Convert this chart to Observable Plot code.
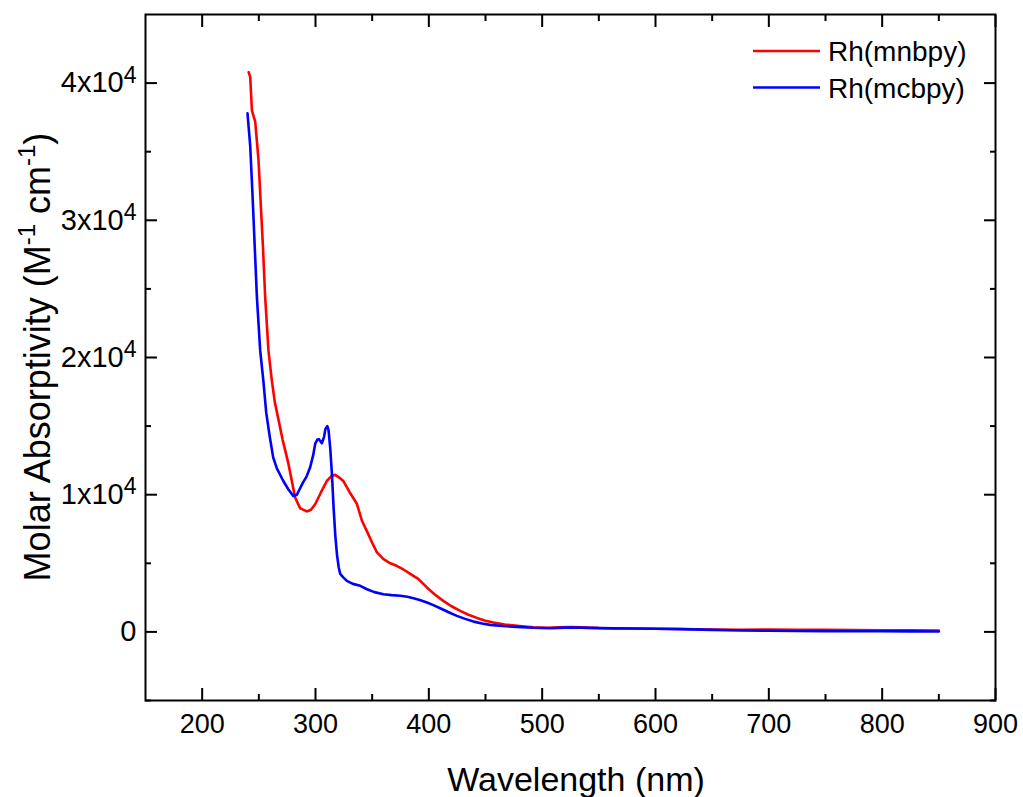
<!DOCTYPE html>
<html>
<head>
<meta charset="utf-8">
<script src="https://cdn.jsdelivr.net/npm/d3@7"></script>
<script src="https://cdn.jsdelivr.net/npm/@observablehq/plot@0.6"></script>
<style>
  html, body { margin: 0; padding: 0; background: #fff; }
  #chart { position: relative; width: 1023px; height: 797px; }
</style>
</head>
<body>
<div id="chart"></div>
<script>
// ---- Data ----
const seriesNames = ["Rh(mnbpy)", "Rh(mcbpy)"];
const seriesColors = ["#ff0000", "#0000ff"];

const wlMnbpy = [241, 242.4, 243.9, 246.8, 249.7, 252, 253.5, 255.6, 258.5, 261.5, 264, 267, 271, 276, 282, 286.5, 292.4, 296, 299.7, 305, 310, 314, 317.4, 321, 324.5, 330, 336.5, 341, 345, 350, 354.2, 360, 366, 372, 377.5, 383.6, 390.6, 398.3, 405, 412.7, 420, 427.7, 435, 442.4, 450, 457, 467, 477.7, 492, 505, 515, 525, 535, 550, 563, 580, 600, 622, 650, 675, 700, 725, 750, 775, 800, 825, 850];
const epsMnbpy = [40800, 40450, 38000, 37200, 34400, 30700, 28300, 24400, 20500, 18300, 16800, 15600, 14000, 12300, 9800, 9000, 8780, 8900, 9300, 10200, 11000, 11350, 11450, 11250, 11000, 10200, 9340, 8100, 7400, 6500, 5800, 5300, 5000, 4800, 4550, 4230, 3870, 3240, 2750, 2260, 1870, 1530, 1250, 1020, 820, 680, 540, 440, 330, 300, 330, 360, 330, 280, 270, 250, 230, 210, 180, 160, 170, 150, 150, 130, 120, 110, 100];

const wlMcbpy = [240, 242.4, 244.4, 246, 248.3, 251.2, 254, 256.5, 259.5, 262.7, 266, 271.6, 276, 280.4, 283.6, 286, 289, 292, 295.3, 298, 299.7, 301.5, 303, 305.6, 307.5, 308.8, 310.4, 311.5, 313, 314.5, 316, 317.5, 319, 320.5, 321.8, 324.7, 327.7, 333, 339.5, 345.4, 352, 360, 367, 374.8, 381, 386.5, 392, 398.3, 404, 410, 417, 424.8, 432, 439.5, 447, 454, 465, 477.7, 492, 507, 520, 530, 540, 563, 580, 600, 622, 650, 675, 700, 725, 750, 775, 800, 825, 850];
const epsMcbpy = [37800, 35400, 31900, 28800, 24400, 20500, 18300, 16000, 14300, 12700, 11900, 11000, 10400, 9900, 10000, 10400, 10900, 11300, 12000, 12900, 13700, 14000, 14050, 13750, 14200, 14800, 15000, 14700, 13400, 11500, 9000, 7000, 5600, 4700, 4230, 3960, 3720, 3500, 3360, 3110, 2900, 2740, 2680, 2630, 2560, 2450, 2320, 2140, 1950, 1720, 1450, 1170, 950, 750, 610, 510, 430, 365, 300, 270, 310, 320, 290, 260, 245, 230, 200, 150, 100, 80, 70, 60, 50, 45, 40, 30];

const xMajorTicks = [200, 300, 400, 500, 600, 700, 800, 900];
const xMinorTicks = [250, 350, 450, 550, 650, 750, 850];
const yMajorTicks = [0, 10000, 20000, 30000, 40000];
const yMinorTicks = [-5000, 5000, 15000, 25000, 35000];
const yTickMantissa = ["0", "1x10", "2x10", "3x10", "4x10"];
const yTickExponent = ["", "4", "4", "4", "4"];

const xTitle = "Wavelength (nm)";

// ---- Build table ----
const rows = [];
wlMnbpy.forEach((w, i) => rows.push({series: seriesNames[0], wl: w, eps: epsMnbpy[i]}));
wlMcbpy.forEach((w, i) => rows.push({series: seriesNames[1], wl: w, eps: epsMcbpy[i]}));

const FONT = "'Liberation Sans', Arial, sans-serif";
const tickW = 2;
const XTICK_FS = 27;
const YTICK_FS = 29;

const plot = Plot.plot({
  width: 1023,
  height: 797,
  marginLeft: 145,
  marginRight: 28,
  marginTop: 14,
  marginBottom: 97,
  style: {fontFamily: FONT, background: "#fff", color: "#000"},
  x: {domain: [150, 900]},
  y: {domain: [-5000, 45000]},
  color: {domain: seriesNames, range: seriesColors},
  marks: [
    Plot.line(rows, {x: "wl", y: "eps", z: "series", stroke: "series", strokeWidth: 2.6, strokeLinejoin: "round"}),
    // inward ticks on all four sides
    Plot.axisX(xMajorTicks, {anchor: "bottom", tickSize: -12, text: null, label: null, strokeWidth: tickW}),
    Plot.axisX(xMinorTicks, {anchor: "bottom", tickSize: -6, text: null, label: null, strokeWidth: tickW}),
    Plot.axisX(xMajorTicks, {anchor: "top", tickSize: -12, text: null, label: null, strokeWidth: tickW}),
    Plot.axisX(xMinorTicks, {anchor: "top", tickSize: -6, text: null, label: null, strokeWidth: tickW}),
    Plot.axisY(yMajorTicks, {anchor: "left", tickSize: -12, text: null, label: null, strokeWidth: tickW}),
    Plot.axisY(yMinorTicks, {anchor: "left", tickSize: -6, text: null, label: null, strokeWidth: tickW}),
    Plot.axisY(yMajorTicks, {anchor: "right", tickSize: -12, text: null, label: null, strokeWidth: tickW}),
    Plot.axisY(yMinorTicks, {anchor: "right", tickSize: -6, text: null, label: null, strokeWidth: tickW}),
    // tick labels
    Plot.axisX(xMajorTicks, {anchor: "bottom", tickSize: 0, tickPadding: 13, label: null, fontSize: XTICK_FS, tickFormat: d => String(d)}),
    Plot.axisY(yMajorTicks, {anchor: "left", tickSize: 0, tickPadding: 9, label: null, fontSize: YTICK_FS, tickFormat: d => yTickMantissa[yMajorTicks.indexOf(d)]}),
    Plot.frame({stroke: "#000", strokeWidth: 2})
  ]
});

document.getElementById("chart").appendChild(plot);

const svg = d3.select(plot);

svg.selectAll("g[aria-label='x-axis tick label']").style("font-size", XTICK_FS + "px");
svg.selectAll("g[aria-label='y-axis tick label']").style("font-size", YTICK_FS + "px");

// superscript exponents on y tick labels
svg.selectAll("g[aria-label='y-axis tick label'] text").each(function() {
  const t = d3.select(this);
  const idx = yTickMantissa.indexOf(t.text());
  if (idx >= 0 && yTickExponent[idx]) {
    t.append("tspan").attr("dy", "-0.42em").style("font-size", Math.round(YTICK_FS * 0.78) + "px").text(yTickExponent[idx]);
  }
});

// Axis titles
svg.append("text")
  .attr("x", 576).attr("y", 791)
  .attr("text-anchor", "middle")
  .attr("font-family", FONT).style("font-size", "34px").attr("fill", "#000")
  .text(xTitle);

const yt = svg.append("text")
  .attr("transform", "translate(50,357) rotate(-90)")
  .attr("text-anchor", "middle")
  .attr("font-family", FONT).style("font-size", "36px").attr("fill", "#000");
const yParts = [["Molar Absorptivity (M", false], ["-1", true], [" cm", false], ["-1", true], [")", false]];
yParts.forEach(([s, sup], i) => {
  const ts = yt.append("tspan").text(s);
  if (sup) ts.style("font-size", "24px").attr("dy", -15);
  else if (i > 0) ts.attr("dy", 15);
});

// Legend
const lg = svg.append("g").attr("font-family", FONT).style("font-size", "28px").attr("text-anchor", "start");
seriesNames.forEach((name, i) => {
  const cy = 51 + i * 36.5;
  lg.append("line").attr("x1", 753).attr("x2", 820).attr("y1", cy).attr("y2", cy)
    .attr("stroke", seriesColors[i]).attr("stroke-width", 2.6);
  lg.append("text").attr("x", 828).attr("y", cy).attr("dy", "0.36em").attr("fill", "#000").text(name);
});
</script>
</body>
</html>
